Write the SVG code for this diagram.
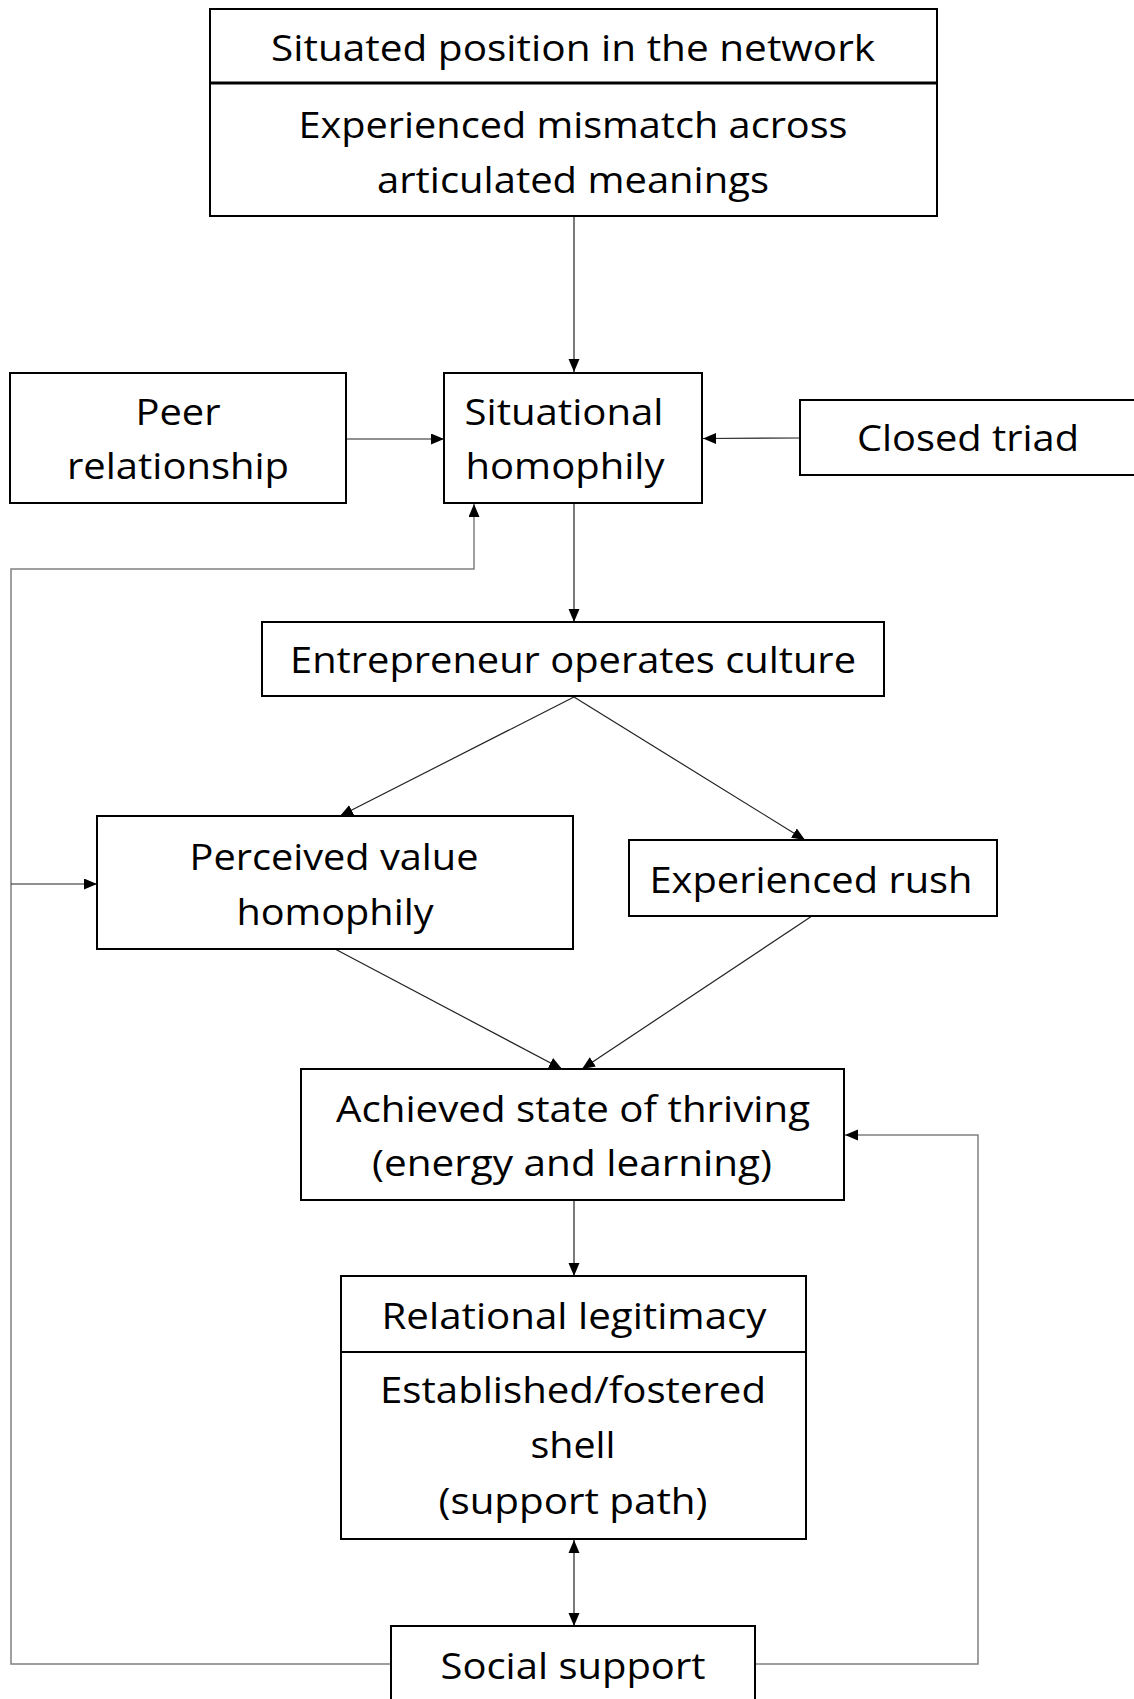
<svg xmlns="http://www.w3.org/2000/svg" width="1134" height="1699" viewBox="0 0 1134 1699">
<style>
.box{fill:#fff;stroke:#000;stroke-width:2}
.t{font-family:"Open Sans","Noto Sans",sans-serif;font-size:37px;fill:#000;text-anchor:middle}
.c{fill:none;stroke:#222;stroke-width:1.2}
.g{fill:none;stroke:#808080;stroke-width:1.5}
</style>
<defs>
<marker id="ah" markerUnits="userSpaceOnUse" markerWidth="14" markerHeight="12" refX="13" refY="5.5" orient="auto">
<path d="M0,0 L13,5.5 L0,11 z" fill="#000"/>
</marker>
<marker id="as" markerUnits="userSpaceOnUse" markerWidth="14" markerHeight="12" refX="0" refY="5.5" orient="auto">
<path d="M13,0 L0,5.5 L13,11 z" fill="#000"/>
</marker>
</defs>
<rect width="1134" height="1699" fill="#fff"/>
<g id="connectors">
<path class="c" d="M574,216 L574,372" marker-end="url(#ah)"/>
<path class="c" d="M346,439 L444,439" marker-end="url(#ah)"/>
<path class="c" d="M800,438 L703,438.5" marker-end="url(#ah)"/>
<path class="g" d="M391,1664 L11,1664 L11,569 L474,569 L474,504" marker-end="url(#ah)"/>
<path class="c" d="M11,884 L97,884" marker-end="url(#ah)"/>
<path class="c" d="M574,503 L574,622" marker-end="url(#ah)"/>
<path class="c" d="M574,697 L340,816" marker-end="url(#ah)"/>
<path class="c" d="M574,697 L805,840" marker-end="url(#ah)"/>
<path class="c" d="M335,949 L562,1069" marker-end="url(#ah)"/>
<path class="c" d="M812,916 L582,1069" marker-end="url(#ah)"/>
<path class="g" d="M755,1664 L978,1664 L978,1135 L845,1135" marker-end="url(#ah)"/>
<path class="c" d="M574,1200 L574,1276" marker-end="url(#ah)"/>
<path class="c" d="M574,1540 L574,1626" marker-start="url(#as)" marker-end="url(#ah)"/>
</g>
<g id="node-top">
<rect class="box" x="210" y="9" width="727" height="207"/>
<line x1="210" y1="83" x2="937" y2="83" stroke="#000" stroke-width="3"/>
<text class="t" x="573" y="61" textLength="604" lengthAdjust="spacingAndGlyphs">Situated position in the network</text>
<text class="t" x="573" y="138" textLength="549" lengthAdjust="spacingAndGlyphs">Experienced mismatch across</text>
<text class="t" x="573" y="193" textLength="392" lengthAdjust="spacingAndGlyphs">articulated meanings</text>
</g>
<g id="node-peer">
<rect class="box" x="10" y="373" width="336" height="130"/>
<text class="t" x="178" y="425" textLength="85" lengthAdjust="spacingAndGlyphs">Peer</text>
<text class="t" x="178" y="479" textLength="222" lengthAdjust="spacingAndGlyphs">relationship</text>
</g>
<g id="node-situational">
<rect class="box" x="444" y="373" width="258" height="130"/>
<text class="t" x="564" y="425" textLength="199" lengthAdjust="spacingAndGlyphs">Situational</text>
<text class="t" x="565" y="479" textLength="199" lengthAdjust="spacingAndGlyphs">homophily</text>
</g>
<g id="node-closed">
<rect class="box" x="800" y="400" width="400" height="75"/>
<text class="t" x="968" y="451" textLength="222" lengthAdjust="spacingAndGlyphs">Closed triad</text>
</g>
<g id="node-entrepreneur">
<rect class="box" x="262" y="622" width="622" height="74"/>
<text class="t" x="573" y="673" textLength="566" lengthAdjust="spacingAndGlyphs">Entrepreneur operates culture</text>
</g>
<g id="node-perceived">
<rect class="box" x="97" y="816" width="476" height="133"/>
<text class="t" x="334" y="870" textLength="289" lengthAdjust="spacingAndGlyphs">Perceived value</text>
<text class="t" x="335" y="925" textLength="197" lengthAdjust="spacingAndGlyphs">homophily</text>
</g>
<g id="node-rush">
<rect class="box" x="629" y="840" width="368" height="76"/>
<text class="t" x="811" y="893" textLength="323" lengthAdjust="spacingAndGlyphs">Experienced rush</text>
</g>
<g id="node-achieved">
<rect class="box" x="301" y="1069" width="543" height="131"/>
<text class="t" x="573" y="1122" textLength="474" lengthAdjust="spacingAndGlyphs">Achieved state of thriving</text>
<text class="t" x="572" y="1176" textLength="400" lengthAdjust="spacingAndGlyphs">(energy and learning)</text>
</g>
<g id="node-relational">
<rect class="box" x="341" y="1276" width="465" height="263"/>
<line x1="341" y1="1352" x2="806" y2="1352" stroke="#000" stroke-width="2"/>
<text class="t" x="574" y="1329" textLength="385" lengthAdjust="spacingAndGlyphs">Relational legitimacy</text>
<text class="t" x="573" y="1403" textLength="386" lengthAdjust="spacingAndGlyphs">Established/fostered</text>
<text class="t" x="573" y="1458" textLength="85" lengthAdjust="spacingAndGlyphs">shell</text>
<text class="t" x="573" y="1514" textLength="269" lengthAdjust="spacingAndGlyphs">(support path)</text>
</g>
<g id="node-social">
<rect class="box" x="391" y="1626" width="364" height="100"/>
<text class="t" x="573" y="1679" textLength="265" lengthAdjust="spacingAndGlyphs">Social support</text>
</g>
</svg>
